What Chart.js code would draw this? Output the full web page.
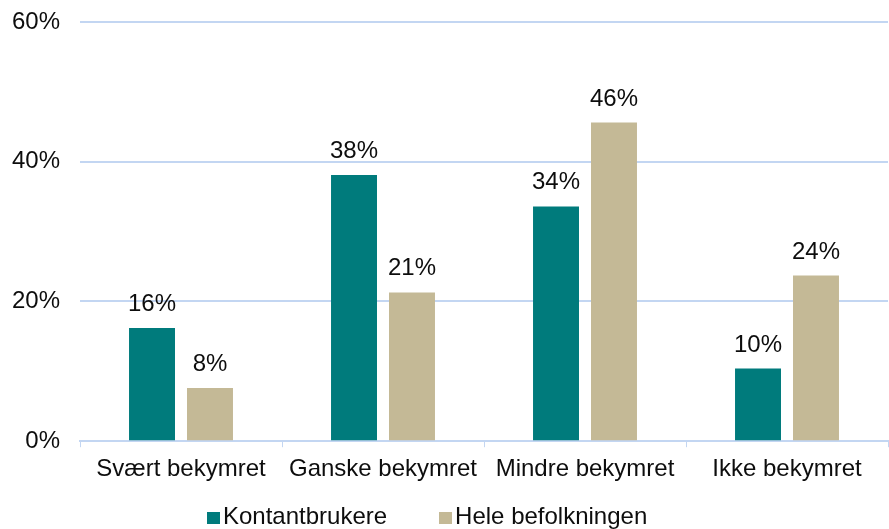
<!DOCTYPE html>
<html>
<head>
<meta charset="utf-8">
<script src="https://cdn.jsdelivr.net/npm/chart.js@4/dist/chart.umd.min.js"></script>
<style>
  html, body { margin: 0; padding: 0; background: #fff; }
  #wrap { width: 889px; height: 529px; position: relative; }
  #legend {
    position: absolute; left: 207px; top: 502px;
    display: flex; gap: 52px;
    font: 24px 'Liberation Sans', Arial, sans-serif; line-height: 28px; color: #0d0d0d;
  }
  #legend .item { display: flex; align-items: center; white-space: nowrap; }
  #legend .box { width: 13px; height: 12px; margin-right: 3px; position: relative; top: 2px; }
</style>
</head>
<body>
<div id="wrap"><canvas id="chart"></canvas><div id="legend"></div></div>
<script>
// Chart data
const categories = ['Svært bekymret', 'Ganske bekymret', 'Mindre bekymret', 'Ikke bekymret'];
const seriesNames = ['Kontantbrukere', 'Hele befolkningen'];
const kontantbrukere = [16.2, 38.1, 33.6, 10.4];
const heleBefolkningen = [7.6, 21.3, 45.6, 23.7];
const yTicks = [0, 20, 40, 60];

const TEAL = '#007b7c';
const TAN = '#c4b996';
const GRID = '#c3d6f2';
const TEXT = '#0d0d0d';
const FONT = "'Liberation Sans', Arial, sans-serif";
const FS = 24;

// Value labels above each bar
const valueLabels = {
    id: 'valueLabels',
    afterDatasetsDraw(chart) {
        const ctx = chart.ctx;
        ctx.save();
        ctx.font = FS + 'px ' + FONT;
        ctx.fillStyle = TEXT;
        ctx.textAlign = 'center';
        ctx.textBaseline = 'alphabetic';
        chart.data.datasets.forEach((ds, i) => {
            chart.getDatasetMeta(i).data.forEach((bar, j) => {
                ctx.fillText(Math.round(ds.data[j]) + '%', bar.x, bar.y - 17);
            });
        });
        ctx.restore();
    }
};

// Legend built as HTML from the datasets
const htmlLegend = {
    id: 'htmlLegend',
    afterUpdate(chart) {
        const el = document.getElementById('legend');
        el.innerHTML = chart.data.datasets.map(ds =>
            '<span class="item"><span class="box" style="background:' + ds.backgroundColor + '"></span>' + ds.label + '</span>'
        ).join('');
    }
};

new Chart(document.getElementById('chart'), {
    type: 'bar',
    data: {
        labels: categories,
        datasets: [
            { label: seriesNames[0], data: kontantbrukere, backgroundColor: TEAL },
            { label: seriesNames[1], data: heleBefolkningen, backgroundColor: TAN }
        ]
    },
    options: {
        responsive: true,
        maintainAspectRatio: false,
        animation: false,
        categoryPercentage: 0.574,
        barPercentage: 0.793,
        layout: { padding: { top: 22, right: 1, left: 0, bottom: 37 } },
        plugins: {
            tooltip: { enabled: false },
            legend: { display: false }
        },
        scales: {
            x: {
                grid: {
                    display: true,
                    drawOnChartArea: false,
                    drawTicks: true,
                    tickLength: 6,
                    color: GRID,
                    offset: true
                },
                border: { color: GRID, width: 2 },
                ticks: {
                    color: TEXT,
                    font: { family: FONT, size: FS },
                    padding: 8,
                    maxRotation: 0
                }
            },
            y: {
                min: 0,
                max: 60,
                afterFit(scale) {
                    scale.width = 80;
                    scale.paddingTop = 0;
                    scale.paddingBottom = 0;
                },
                afterBuildTicks(scale) { scale.ticks = yTicks.map(v => ({ value: v })); },
                grid: { color: GRID, lineWidth: 2, drawTicks: false },
                border: { display: false },
                ticks: {
                    color: TEXT,
                    font: { family: FONT, size: FS },
                    padding: 20,
                    callback: v => v + '%'
                }
            }
        }
    },
    plugins: [valueLabels, htmlLegend]
});
</script>
</body>
</html>
